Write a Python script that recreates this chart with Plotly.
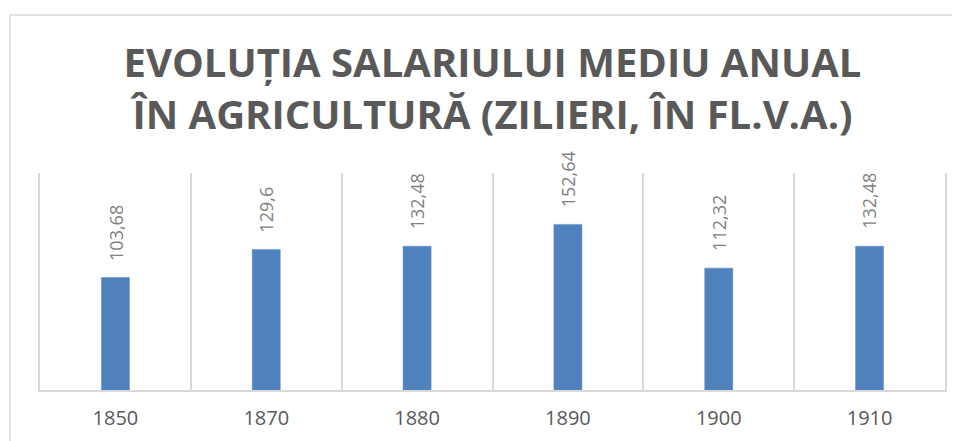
import plotly.graph_objects as go

categories = ["1850", "1870", "1880", "1890", "1900", "1910"]
values = [103.68, 129.6, 132.48, 152.64, 112.32, 132.48]
labels = ["103,68", "129,6", "132,48", "152,64", "112,32", "132,48"]

title_text = "EVOLUȚIA SALARIULUI MEDIU ANUAL<br>ÎN AGRICULTURĂ (ZILIERI, ÎN FL.V.A.)"

GRAY = "#595959"
LABEL_GRAY = "#7f7f7f"
GRID = "#d9d9d9"
BAR = "#4F81BD"

fig = go.Figure()
fig.add_trace(go.Bar(
    x=categories, y=values, width=0.186,
    marker=dict(color=BAR, line=dict(color="#5b8cc6", width=0.5)),
    hoverinfo="skip",
))

for i, (v, t) in enumerate(zip(values, labels)):
    fig.add_annotation(
        x=i, y=v, xref="x", yref="y", text=t, textangle=-90, showarrow=False,
        xanchor="center", yanchor="bottom", yshift=15,
        font=dict(family="Open Sans", size=18, color=LABEL_GRAY),
    )

# chart frame
fig.add_shape(type="rect", xref="paper", yref="paper",
              x0=-0.0331, x1=1.05, y0=-0.4, y1=1.728,
              line=dict(color=GRID, width=1.5), layer="below")

fig.update_layout(
    width=960, height=441,
    margin=dict(l=32, r=23, t=165, b=59, autoexpand=False),
    paper_bgcolor="white", plot_bgcolor="white",
    showlegend=False,
    title=dict(
        text=title_text, x=0.5, xref="paper", xanchor="center",
        y=1 - 69 / 441, yref="container", yanchor="middle",
        font=dict(family="Open Sans", size=40, color=GRAY, weight="bold"),
    ),
    xaxis=dict(
        type="category", range=[-0.5, 5.5], automargin=False,
        tickson="boundaries", showgrid=True, gridcolor=GRID, gridwidth=1.5,
        showline=True, linecolor=GRID, linewidth=2,
        ticks="", ticklabelstandoff=9,
        tickfont=dict(family="Open Sans", size=20, color=GRAY),
        fixedrange=True,
    ),
    yaxis=dict(
        range=[0, 200], showgrid=False, zeroline=False, automargin=False,
        showticklabels=False, ticks="",
        showline=True, linecolor=GRID, linewidth=1.5, mirror=True,
        fixedrange=True,
    ),
)

fig.write_html("out.html")
